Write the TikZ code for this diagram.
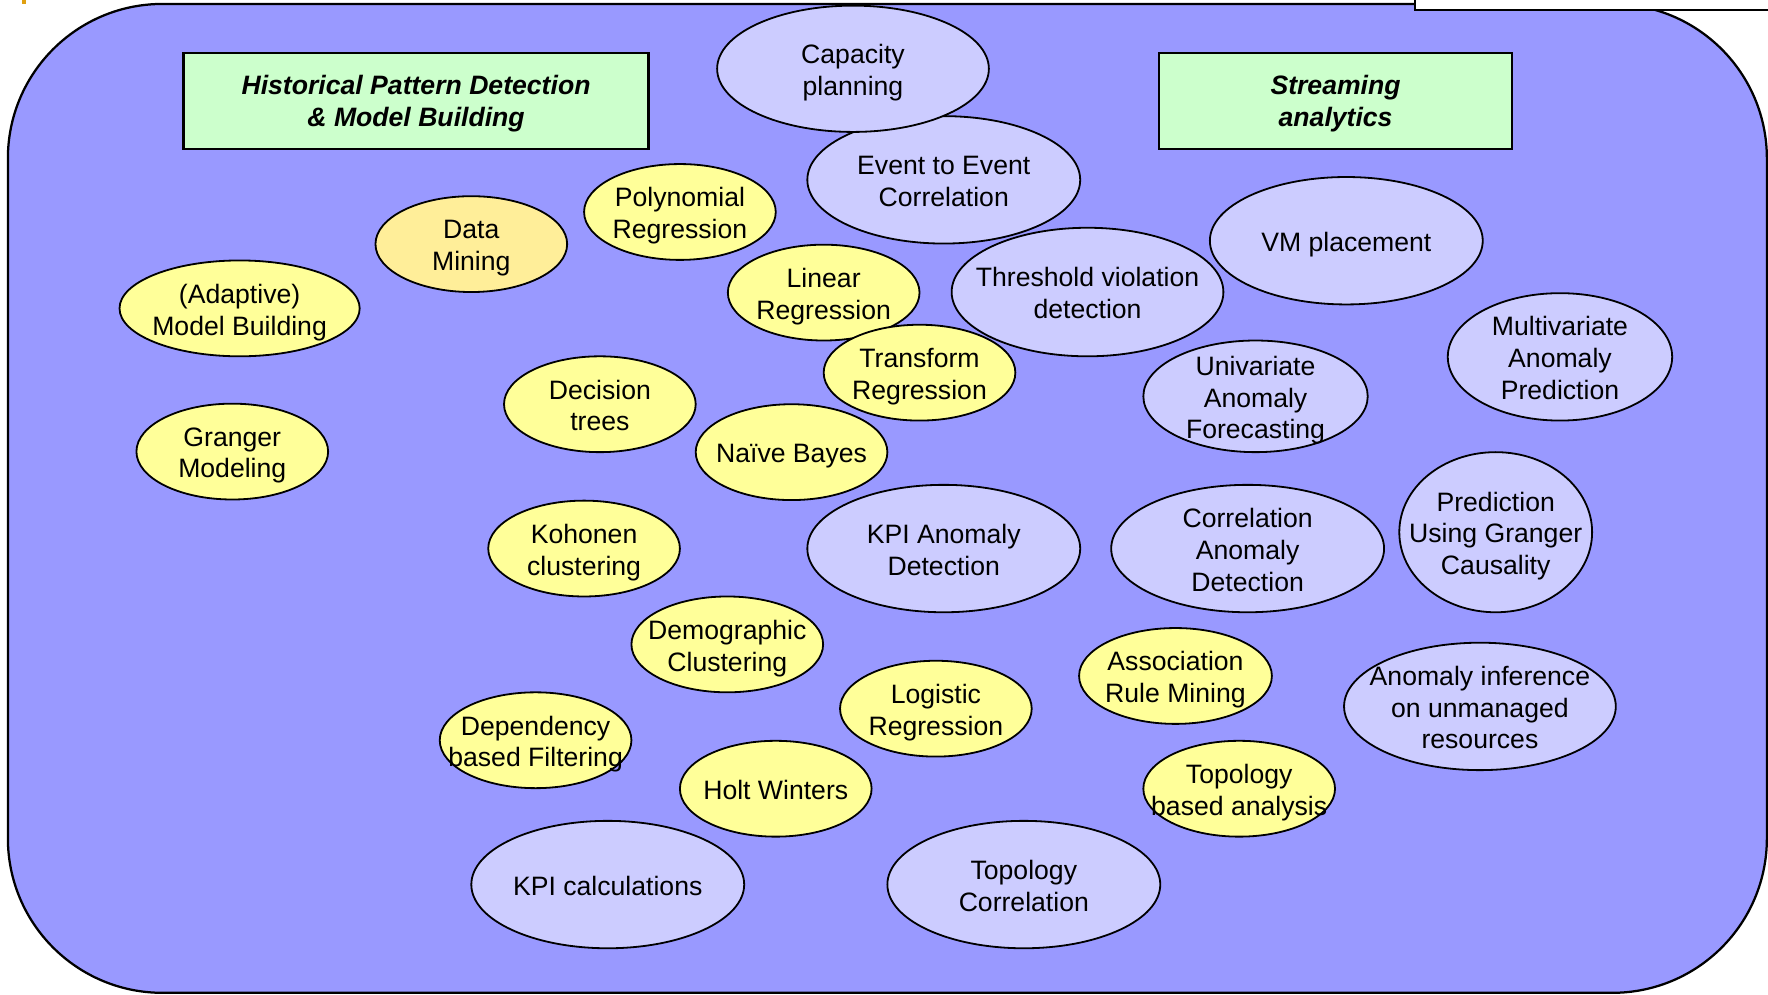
\documentclass[tikz,border=0pt]{standalone}
\usepackage{fontspec}
\setmainfont{Liberation Sans}
\usetikzlibrary{shapes.geometric}

\definecolor{panelblue}{HTML}{9999FF}
\definecolor{lilac}{HTML}{CCCCFF}
\definecolor{paleyellow}{HTML}{FFFF99}
\definecolor{sandyellow}{HTML}{FFEE99}
\definecolor{mint}{HTML}{CCFFCC}
\definecolor{tabgold}{HTML}{E0A010}

% one ellipse with its centred caption
\newcommand\blob[7]{%
  \node[blobshape,#6,minimum width={2*#4pt},minimum height={2*#5pt}] (#1) at (#2,#3) {};
  \node[blobtext] (#1-t) at (#1.center) {#7};}

\begin{document}
\begin{tikzpicture}[x=1pt,y=-1pt,
  blobshape/.style={ellipse,draw=black,line width=1.6pt,inner sep=0pt},
  method/.style={fill=paleyellow},
  mining/.style={fill=sandyellow},
  usecase/.style={fill=lilac},
  blobtext/.style={align=center,inner sep=0pt,text depth=0pt,yshift=-1pt,
    font=\fontsize{23.6}{28.2}\selectfont},
  header/.style={draw=black,line width=2.3pt,fill=mint,align=center,
    inner sep=0pt,text depth=0pt,
    font=\fontsize{23.6}{27.8}\selectfont\bfseries\itshape}]
\useasboundingbox (0,0) rectangle (1568,882);

% background panel
\draw[fill=panelblue,line width=2pt,rounded corners=137pt] (7,3.5) rectangle (1567,880.5);
% frame cut off at the top right, small tab at the top left
\draw[fill=white,line width=2.2pt] (1255,-20) rectangle (1600,9);
\fill[tabgold] (19.5,0) rectangle (23,3.5);

% section headers
\node[header,minimum width=412pt,minimum height=85pt] (hist) at (369,89.5)
  {Historical Pattern Detection\\\& Model Building};
\node[header,minimum width=313pt,minimum height=85pt] (stream) at (1184.5,89.5)
  {Streaming\\analytics};

% analytics use cases
\blob{evt}{837}{159.5}{121}{56.5}{usecase}{Event to Event\\Correlation}
\blob{cap}{756.5}{61}{120.5}{56}{usecase}{Capacity\\planning}
\blob{thr}{964.5}{259}{120.5}{57}{usecase}{Threshold violation\\detection}
\blob{vm}{1194}{213.5}{121}{56.5}{usecase}{VM placement}
\blob{multi}{1383.5}{316.5}{99.5}{56.5}{usecase}{Multivariate\\Anomaly\\Prediction}
\blob{uni}{1113.5}{351.5}{99.5}{49.5}{usecase}{Univariate\\Anomaly\\Forecasting}
\blob{kpiad}{837}{486.5}{121}{56.5}{usecase}{KPI Anomaly\\Detection}
\blob{corrad}{1106.5}{486.5}{121}{56.5}{usecase}{Correlation\\Anomaly\\Detection}
\blob{gcaus}{1326.5}{472}{85.5}{71}{usecase}{Prediction\\Using Granger\\Causality}
\blob{unman}{1312.5}{626.5}{120.5}{56.5}{usecase}{Anomaly inference\\on unmanaged\\resources}
\blob{kpicalc}{539}{784.5}{121}{56.5}{usecase}{KPI calculations}
\blob{topocorr}{908}{784.5}{121}{56.5}{usecase}{Topology\\Correlation}

% modelling techniques
\blob{poly}{603}{188}{85}{42.5}{method}{Polynomial\\Regression}
\blob{dmine}{418}{216.5}{85}{42.5}{mining}{Data\\Mining}
\blob{adapt}{212.5}{273.5}{106.5}{42.5}{method}{(Adaptive)\\Model Building}
\blob{linreg}{730.5}{259.5}{85}{42.5}{method}{Linear\\Regression}
\blob{transreg}{815.5}{330.5}{85}{42.5}{method}{Transform\\Regression}
\blob{dtree}{532}{358.5}{85}{42.5}{method}{Decision\\trees}
\blob{granger}{206}{400.5}{85}{42.5}{method}{Granger\\Modeling}
\blob{bayes}{702}{401}{85}{42.5}{method}{Naïve Bayes}
\blob{kohonen}{518}{486.5}{85}{42.5}{method}{Kohonen\\clustering}
\blob{demo}{645}{571.5}{85}{42.5}{method}{Demographic\\Clustering}
\blob{logreg}{830}{628.5}{85}{42.5}{method}{Logistic\\Regression}
\blob{depfilt}{475}{656.5}{85}{42.5}{method}{Dependency\\based Filtering}
\blob{holt}{688}{699.5}{85}{42.5}{method}{Holt Winters}
\blob{assoc}{1042.5}{599.5}{85.5}{42.5}{method}{Association\\Rule Mining}
\blob{topoan}{1099}{699.5}{85}{42.5}{method}{Topology\\based analysis}
\end{tikzpicture}
\end{document}
